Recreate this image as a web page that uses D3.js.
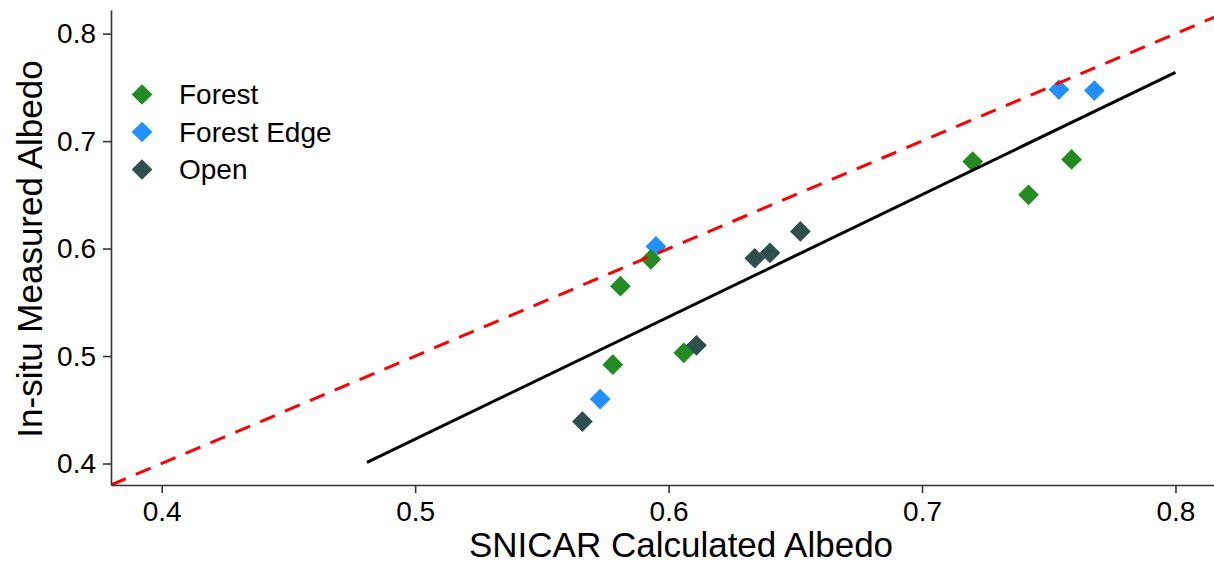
<!DOCTYPE html>
<html>
<head>
<meta charset="utf-8">
<script src="https://cdn.jsdelivr.net/npm/d3@7"></script>
<style>
  body { margin: 0; background: #fff; }
  text { font-family: "Liberation Sans", Arial, sans-serif; fill: #000; }
</style>
</head>
<body>
<div id="graph"></div>
<script>
// Albedo values
const categories = ["Forest", "Forest Edge", "Open"];
const colors = ["#228B22", "#1E90FF", "#2F4F4F"];

const forestX = [0.581, 0.578, 0.593, 0.606, 0.720, 0.742, 0.759];
const forestY = [0.565, 0.492, 0.590, 0.503, 0.681, 0.650, 0.683];
const edgeX = [0.595, 0.573, 0.754, 0.768];
const edgeY = [0.602, 0.460, 0.748, 0.747];
const openX = [0.566, 0.611, 0.634, 0.640, 0.652];
const openY = [0.439, 0.510, 0.591, 0.596, 0.616];

// regression line end points and the 1:1 line
const fitX = [0.481, 0.800];
const fitY = [0.401, 0.764];
const oneToOne = [0.38, 0.82];

const tickValues = [0.4, 0.5, 0.6, 0.7, 0.8];

var width = 1214, height = 567;
var margins = {top: 10, bottom: 82, right: 0, left: 111};

var svg = d3.select('#graph')
  .append('svg')
  .attr('width', width)
  .attr('height', height);

var x = d3.scaleLinear()
  .domain([0.38, 0.8152])
  .range([margins.left, width - margins.right]);

var y = d3.scaleLinear()
  .domain([0.38, 0.822])
  .range([height - margins.bottom, margins.top]);

// clip so the 1:1 line stays inside the panel
svg.append("clipPath").attr("id", "panel")
  .append("rect")
  .attr("x", margins.left)
  .attr("y", margins.top)
  .attr("width", width - margins.left - margins.right)
  .attr("height", height - margins.top - margins.bottom);

// points, one group per site type (edge first so forest sits on top of it)
var series = [
  {name: "Forest Edge", xs: edgeX, ys: edgeY, color: colors[1]},
  {name: "Forest", xs: forestX, ys: forestY, color: colors[0]},
  {name: "Open", xs: openX, ys: openY, color: colors[2]}
];

var diamond = d3.symbol().type(d3.symbolSquare).size(215);

series.forEach(function(s) {
  svg.append("g")
    .selectAll("path")
    .data(s.xs.map((v, i) => [v, s.ys[i]]))
    .enter().append("path")
      .attr("d", diamond)
      .attr("transform", d => "translate(" + x(d[0]) + "," + y(d[1]) + ") rotate(45)")
      .style("fill", s.color);
});

// fitted line
svg.append("path")
  .datum(fitX.map((v, i) => [v, fitY[i]]))
  .attr("d", d3.line().x(d => x(d[0])).y(d => y(d[1])))
  .style("fill", "none")
  .style("stroke", "#000")
  .style("stroke-width", 3);

// 1:1 reference line
svg.append("path")
  .datum(oneToOne.map(v => [v, v]))
  .attr("clip-path", "url(#panel)")
  .attr("d", d3.line().x(d => x(d[0])).y(d => y(d[1])))
  .style("fill", "none")
  .style("stroke", "#ff0000")
  .style("stroke-width", 3)
  .style("stroke-dasharray", "16,11");

// axes
var xAxis = svg.append("g")
  .attr("transform", "translate(0," + (height - margins.bottom) + ")")
  .call(d3.axisBottom(x).tickValues(tickValues).tickFormat(d3.format(".1f")).tickSize(8).tickPadding(8).tickSizeOuter(0));

var yAxis = svg.append("g")
  .attr("transform", "translate(" + margins.left + ",0)")
  .call(d3.axisLeft(y).tickValues(tickValues).tickFormat(d3.format(".1f")).tickSize(8).tickPadding(7).tickSizeOuter(0));

[xAxis, yAxis].forEach(function(a) {
  a.select(".domain").style("stroke", "#333").style("stroke-width", 1.6);
  a.selectAll(".tick line").style("stroke", "#333").style("stroke-width", 1.6);
  a.selectAll(".tick text").style("font-size", "28px").style("fill", "#000");
});

// axis titles
svg.append("text")
  .attr("x", 681)
  .attr("y", 557)
  .attr("text-anchor", "middle")
  .style("font-size", "35px")
  .text("SNICAR Calculated Albedo");

svg.append("text")
  .attr("transform", "translate(42,249) rotate(-90)")
  .attr("text-anchor", "middle")
  .style("font-size", "35px")
  .text("In-situ Measured Albedo");

// legend
var legend = svg.append("g")
  .selectAll("g")
  .data(categories)
  .enter().append("g")
    .attr("transform", (d, i) => "translate(142," + (94.5 + i * 37.5) + ")");

legend.append("path")
  .attr("d", diamond)
  .attr("transform", "rotate(45)")
  .style("fill", (d, i) => colors[i]);

legend.append("text")
  .attr("x", 37)
  .attr("dy", "0.35em")
  .style("font-size", "28px")
  .text(d => d);
</script>
</body>
</html>
